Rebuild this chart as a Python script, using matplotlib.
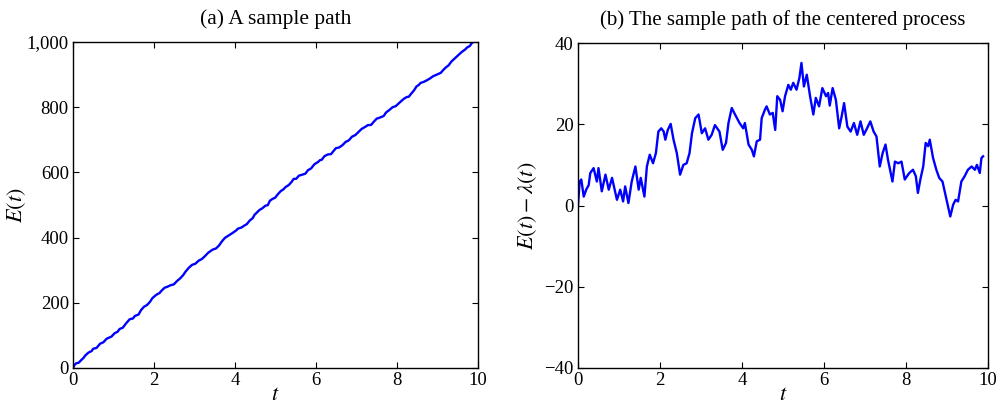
import matplotlib
matplotlib.use('Agg')
import matplotlib.pyplot as plt
import matplotlib.ticker as mticker
import numpy as np

plt.rcParams['font.family'] = ['Liberation Serif', 'DejaVu Serif']
plt.rcParams['mathtext.fontset'] = 'stix'

# rate of the process
lam = 100

# sample path of the centered process
t = [0.0, 0.04, 0.08, 0.14, 0.2, 0.26, 0.3, 0.38, 0.46, 0.5, 0.58, 0.67, 0.75,
     0.83, 0.95, 1.03, 1.1, 1.15, 1.23, 1.31, 1.4, 1.48, 1.53, 1.62, 1.68, 1.75,
     1.83, 1.9, 1.96, 2.03, 2.09, 2.13, 2.19, 2.26, 2.33, 2.41, 2.49, 2.57, 2.65,
     2.72, 2.78, 2.86, 2.94, 3.02, 3.1, 3.18, 3.26, 3.34, 3.45, 3.53, 3.61, 3.67,
     3.75, 3.83, 3.94, 4.03, 4.07, 4.16, 4.24, 4.29, 4.36, 4.44, 4.48, 4.56, 4.6,
     4.68, 4.75, 4.81, 4.86, 4.93, 4.99, 5.05, 5.13, 5.19, 5.25, 5.33, 5.4, 5.45,
     5.51, 5.58, 5.66, 5.74, 5.8, 5.88, 5.96, 6.05, 6.1, 6.14, 6.21, 6.29, 6.37,
     6.43, 6.49, 6.57, 6.65, 6.73, 6.81, 6.89, 6.97, 7.05, 7.13, 7.21, 7.28, 7.36,
     7.43, 7.5, 7.56, 7.67, 7.73, 7.81, 7.89, 7.97, 8.08, 8.17, 8.24, 8.29, 8.35,
     8.42, 8.48, 8.54, 8.58, 8.66, 8.74, 8.81, 8.89, 8.99, 9.08, 9.15, 9.21, 9.27,
     9.35, 9.43, 9.51, 9.6, 9.68, 9.73, 9.8, 9.84, 9.88]
centered = [0.0, 5.9, 6.4, 2.2, 3.9, 5.0, 8.0, 9.2, 5.9, 9.2, 3.5, 7.6, 3.9,
            6.8, 1.4, 3.9, 1.0, 4.7, 0.6, 5.9, 9.6, 3.9, 6.8, 2.2, 9.6, 12.5,
            10.4, 12.9, 18.2, 19.0, 18.2, 16.2, 18.6, 20.1, 16.2, 12.9, 7.6, 10.0, 10.4,
            12.9, 17.8, 21.5, 22.4, 17.8, 19.0, 16.2, 17.4, 19.8, 18.2, 13.7, 15.4, 20.3,
            24.0, 22.4, 20.3, 19.0, 20.3, 15.0, 13.7, 12.1, 15.8, 16.2, 21.5, 23.6, 24.4,
            22.4, 22.8, 18.6, 26.9, 26.0, 23.2, 26.9, 29.7, 28.5, 30.2, 28.5, 31.4, 35.1,
            29.3, 32.2, 26.9, 22.4, 26.5, 24.4, 28.9, 26.9, 27.7, 24.6, 28.9, 26.0, 19.0,
            21.9, 25.2, 19.4, 18.2, 20.3, 17.4, 20.7, 17.4, 19.0, 20.7, 18.2, 17.0, 9.6,
            12.9, 15.0, 11.3, 5.9, 10.8, 10.4, 10.8, 6.4, 8.0, 8.8, 7.2, 3.1, 6.4,
            9.6, 15.4, 14.6, 16.2, 11.7, 8.8, 6.8, 5.9, 1.4, -2.7, 0.2, 1.4, 1.0,
            5.9, 7.2, 8.8, 9.6, 8.8, 10.0, 8.0, 11.7, 12.1]

t = np.array(t)
centered = np.array(centered)
E = lam * t + centered

fig = plt.figure(figsize=(10.04, 4.08), dpi=100)
ax1 = fig.add_axes([73/1004, 1 - 368/408, 405/1004, 326/408])
ax2 = fig.add_axes([578/1004, 1 - 368/408, 410/1004, 325/408])

ax1.plot(t, E, color='#0000ff', lw=1.7)
ax1.set_xlim(0, 10)
ax1.set_ylim(0, 1000)
ax1.set_xticks([0, 2, 4, 6, 8, 10])
ax1.set_yticks([0, 200, 400, 600, 800, 1000])
ax1.yaxis.set_major_formatter(mticker.FuncFormatter(lambda v, p: f'{int(v):,}'))
ax1.set_title('(a) A sample path', fontsize=15.5, pad=13)
ax1.set_xlabel(r'$t$', fontsize=16, labelpad=-2)
ax1.set_ylabel(r'$E(t)$', fontsize=16, labelpad=-1)

ax2.plot(t, centered, color='#0000ff', lw=1.7)
ax2.set_xlim(0, 10)
ax2.set_ylim(-40, 40)
ax2.set_xticks([0, 2, 4, 6, 8, 10])
ax2.set_yticks([-40, -20, 0, 20, 40])
ax2.set_title('(b) The sample path of the centered process', fontsize=15, pad=13)
ax2.set_xlabel(r'$t$', fontsize=16, labelpad=-2)
ax2.set_ylabel(r'$E(t)-\lambda(t)$', fontsize=16, labelpad=4)

for ax in (ax1, ax2):
    ax.tick_params(direction='in', top=True, right=True, length=4, width=0.8,
                   labelsize=13.5, pad=3)
    for s in ax.spines.values():
        s.set_linewidth(1.0)

fig.savefig('out.png', dpi=100)
